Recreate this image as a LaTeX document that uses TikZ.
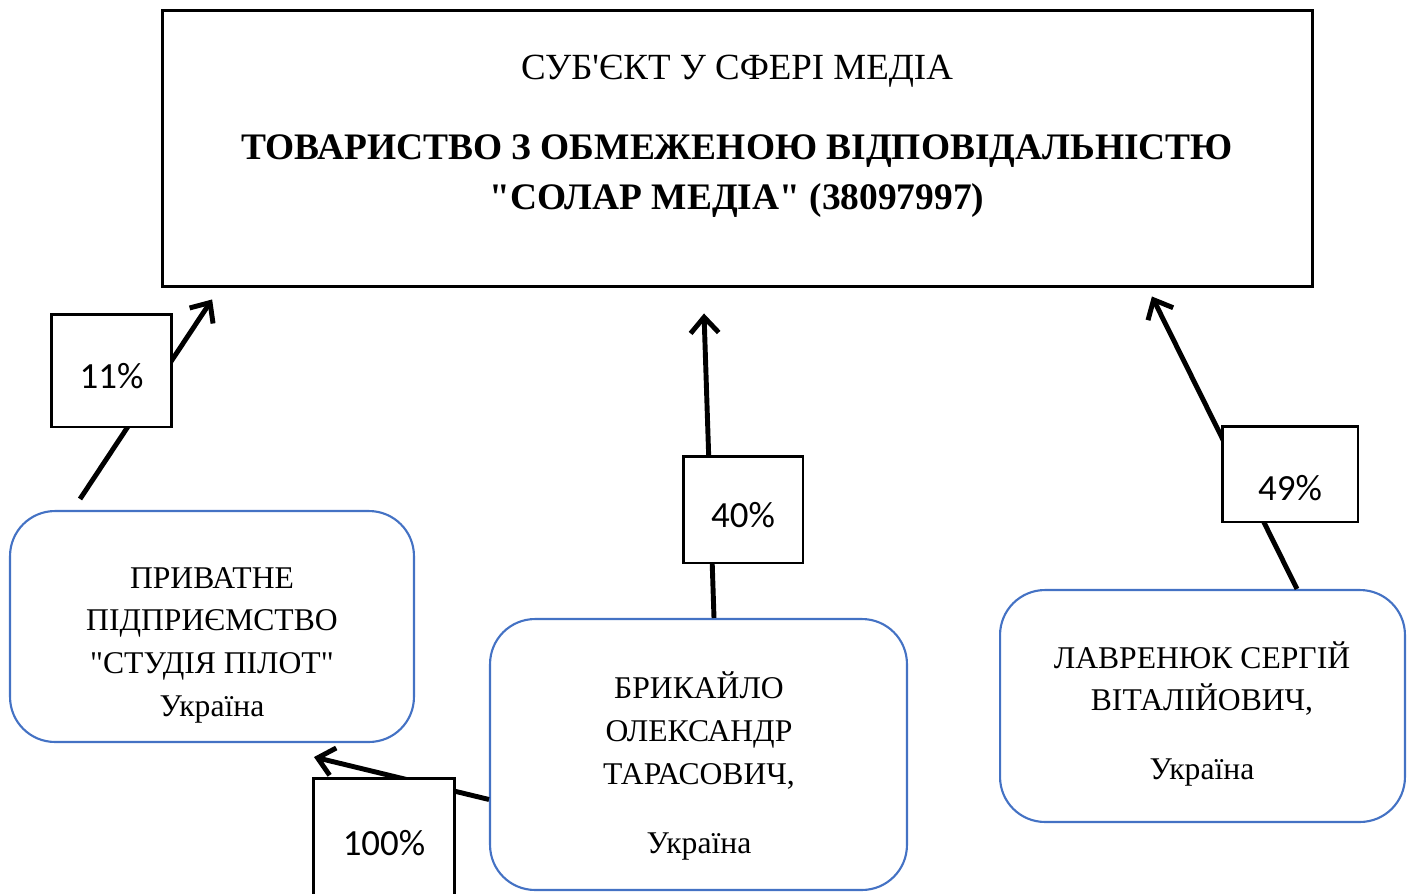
\documentclass[tikz,border=0pt]{standalone}
\usepackage{fontspec}
\setmainfont{Liberation Serif}
\newfontfamily\pctfont{Carlito}
\usepackage{tikz}
\usetikzlibrary{arrows.meta}

\definecolor{ownerblue}{RGB}{68,114,196}

\begin{document}
\begin{tikzpicture}[x=0.02cm,y=-0.02cm,
	entity/.style={draw=black, line width=1.7pt, minimum width=23.02cm, minimum height=5.54cm},
	owner/.style={draw=ownerblue, line width=1.2pt, rounded corners=0.9cm, fill=white},
	ownertext/.style={align=center, font=\fontsize{18}{24.3}\selectfont},
	share/.style={draw=black, line width=1.7pt, fill=white, text height=21pt, text depth=1pt, font=\pctfont\fontsize{21}{24}\selectfont},
	link/.style={line width=2.8pt, -{Straight Barb[length=9pt,width=16pt]}}]
	    \useasboundingbox (0,0) rectangle (1416,893);
	    % media entity
	    \node[entity] (media) at (737.5,148.5) {};
	    \node[font=\fontsize{21}{24}\selectfont] (mediatitle) at (737,71) {СУБ\textquotesingle ЄКТ У СФЕРІ МЕДІА};
	    \node[align=center, font=\bfseries\fontsize{21.3}{28}\selectfont] (medianame) at (737,176) {ТОВАРИСТВО З ОБМЕЖЕНОЮ ВІДПОВІДАЛЬНІСТЮ\\\textquotedbl СОЛАР МЕДІА\textquotedbl{} (38097997)};
	    % owners
	    \node[owner, minimum width=8.08cm, minimum height=4.62cm] (studio) at (212,626.5) {};
	    \node[ownertext] (studiotext) at (212,645) {ПРИВАТНЕ\\ПІДПРИЄМСТВО\\\textquotedbl СТУДІЯ ПІЛОТ\textquotedbl\\Україна};
	    \node[owner, minimum width=8.34cm, minimum height=5.42cm] (brik) at (698.5,754.5) {};
	    \node[ownertext] (briktext) at (699,766) {БРИКАЙЛО\\ОЛЕКСАНДР\\ТАРАСОВИЧ,\\[15pt]Україна};
	    \node[owner, minimum width=8.1cm, minimum height=4.64cm] (lav) at (1202.5,706) {};
	    \node[ownertext] (lavtext) at (1202,714) {ЛАВРЕНЮК СЕРГІЙ\\ВІТАЛІЙОВИЧ,\\[15pt]Україна};
	    % shares
	    \draw[link] ([xshift=-2.64cm, yshift=0.22cm]studio.north) -- ([xshift=-10.51cm, yshift=-0.22cm]media.south);
	    \draw[link] ([xshift=0.31cm]brik.north) -- ([xshift=-0.67cm, yshift=-0.5cm]media.south);
	    \draw[link] ([xshift=1.89cm]lav.north) -- ([xshift=8.29cm, yshift=-0.16cm]media.south);
	    \draw[link] ([yshift=-0.9cm]brik.west) -- ([xshift=2.04cm, yshift=-0.28cm]studio.south);
	    \node[share, minimum width=2.42cm, minimum height=2.26cm] (p11) at (111.5,370.5) {11\%};
	    \node[share, minimum width=2.4cm, minimum height=2.14cm] (p40) at (743,509.5) {40\%};
	    \node[share, minimum width=2.72cm, minimum height=1.92cm, text height=31pt] (p49) at (1290,474) {49\%};
	    \node[share, minimum width=2.84cm, minimum height=2.4cm] (p100) at (384,838) {100\%};
\end{tikzpicture}
\end{document}
